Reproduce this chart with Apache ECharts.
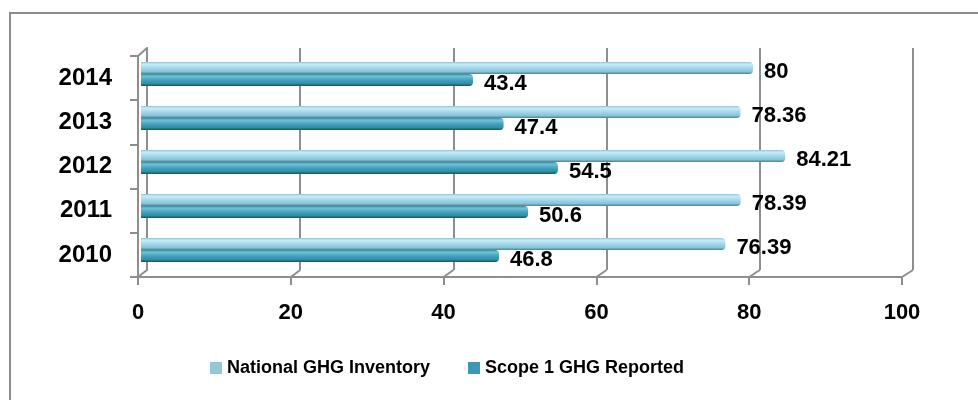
<!DOCTYPE html>
<html>
<head>
<meta charset="utf-8">
<script src="https://cdn.jsdelivr.net/npm/echarts@6/dist/echarts.min.js"></script>
<style>
  html, body { margin: 0; padding: 0; background: #fff; }
  .wrap { position: relative; width: 978px; height: 400px; overflow: hidden; }
  .frame { position: absolute; left: 9px; top: 12px; width: 980px; height: 400px;
           border-top: 2px solid #8c8c8c; border-left: 2px solid #8c8c8c; }
  .chart { position: absolute; left: 0; top: 0; width: 978px; height: 400px; }
</style>
</head>
<body>
<div class="wrap">
  <div class="frame"></div>
  <div class="chart" id="main"></div>
</div>
<script>
// data
var years = ["2010", "2011", "2012", "2013", "2014"];
var national = [76.39, 78.39, 84.21, 78.36, 80];
var scope1 = [46.8, 50.6, 54.5, 47.4, 43.4];
var xTicks = [0, 20, 40, 60, 80, 100];

var FONT = "'Liberation Sans', Arial, sans-serif";
var gridColor = "#8e8e8e";

function grad(stops) {
  return new echarts.graphic.LinearGradient(0, 0, 0, 1, stops);
}

var myChart = echarts.init(document.getElementById("main"), null, { renderer: "canvas" });

var labelStyle = {
  show: true, position: "right", distance: 11, offset: [0, 4],
  fontFamily: FONT, fontSize: 22, fontWeight: "bold", color: "#000"
};

var option = {
  animation: false,
  textStyle: { fontFamily: FONT },
  grid: [
    // back wall (3d depth offset)
    { left: 147, right: 65, top: 48, bottom: 130 },
    // bars
    { left: 141, right: 72, top: 52, bottom: 128 },
    // front axes
    { left: 138, right: 76, top: 56, bottom: 123 }
  ],
  legend: {
    left: 205,
    top: 354,
    itemWidth: 12,
    itemHeight: 12,
    itemGap: 38,
    icon: "rect",
    textStyle: { fontFamily: FONT, fontSize: 18, fontWeight: "bold", color: "#000" },
    data: [
      { name: "National GHG Inventory", itemStyle: { color: "#93c6d7" } },
      { name: "Scope 1 GHG Reported", itemStyle: { color: "#3d98b0" } }
    ]
  },
  xAxis: [
    {
      gridIndex: 0, type: "value", min: xTicks[0], max: xTicks[xTicks.length - 1], interval: 20,
      axisLine: { show: false }, axisTick: { show: false }, axisLabel: { show: false },
      splitLine: { show: true, lineStyle: { color: gridColor, width: 2 } }
    },
    {
      gridIndex: 1, type: "value", min: 0, max: 100, interval: 20,
      axisLine: { show: false }, axisTick: { show: false }, axisLabel: { show: false },
      splitLine: { show: false }
    },
    {
      gridIndex: 2, type: "value", min: 0, max: 100, interval: 20,
      axisLine: { show: true, lineStyle: { color: gridColor, width: 2 } },
      axisTick: { show: true, length: 8, lineStyle: { color: gridColor, width: 2 } },
      axisLabel: { margin: 25, fontFamily: FONT, fontSize: 22, fontWeight: "bold", color: "#000" },
      splitLine: { show: false }
    }
  ],
  yAxis: [
    {
      gridIndex: 0, type: "category", data: years,
      axisLine: { show: true, lineStyle: { color: gridColor, width: 2 } },
      axisTick: { show: false }, axisLabel: { show: false }
    },
    {
      gridIndex: 1, type: "category", data: years,
      axisLine: { show: false }, axisTick: { show: false }, axisLabel: { show: false }
    },
    {
      gridIndex: 2, type: "category", data: years,
      axisLine: { show: true, lineStyle: { color: gridColor, width: 2 } },
      axisTick: { show: true, length: 8, lineStyle: { color: gridColor, width: 2 } },
      axisLabel: { margin: 26, fontFamily: FONT, fontSize: 24, fontWeight: "bold", color: "#000" }
    }
  ],
  series: [
    {
      name: "National GHG Inventory",
      type: "bar",
      xAxisIndex: 1,
      yAxisIndex: 1,
      data: national,
      barWidth: 12,
      barGap: "0%",
      itemStyle: {
        borderRadius: [0, 4, 4, 0],
        color: grad([
          { offset: 0, color: "#8cc4d6" },
          { offset: 0.18, color: "#c8ecf8" },
          { offset: 0.5, color: "#a0d8ec" },
          { offset: 0.8, color: "#86c3d7" },
          { offset: 1, color: "#507f8c" }
        ])
      },
      label: labelStyle
    },
    {
      name: "Scope 1 GHG Reported",
      type: "bar",
      xAxisIndex: 1,
      yAxisIndex: 1,
      data: scope1,
      barWidth: 12,
      barGap: "0%",
      itemStyle: {
        borderRadius: [0, 4, 4, 0],
        color: grad([
          { offset: 0, color: "#3a8ba1" },
          { offset: 0.18, color: "#72c2d8" },
          { offset: 0.5, color: "#42a2bc" },
          { offset: 0.8, color: "#348ba3" },
          { offset: 1, color: "#1d4e5b" }
        ])
      },
      label: labelStyle
    }
  ]
};

myChart.setOption(option);

// 3d depth connectors between the front axes and the back wall
var lines = [];
xTicks.forEach(function (v) {
  var front = myChart.convertToPixel({ xAxisIndex: 2, yAxisIndex: 2 }, [v, years[0]]);
  var back = myChart.convertToPixel({ xAxisIndex: 0, yAxisIndex: 0 }, [v, years[0]]);
  var fy = myChart.getModel().getComponent("grid", 2).coordinateSystem.getRect();
  var by = myChart.getModel().getComponent("grid", 0).coordinateSystem.getRect();
  lines.push([[front[0], fy.y + fy.height], [back[0], by.y + by.height]]);
});
var fr = myChart.getModel().getComponent("grid", 2).coordinateSystem.getRect();
var br = myChart.getModel().getComponent("grid", 0).coordinateSystem.getRect();
lines.push([[fr.x, fr.y], [br.x, br.y]]);

myChart.setOption({
  graphic: lines.map(function (l) {
    return {
      type: "line", silent: true, z: 1,
      shape: { x1: l[0][0], y1: l[0][1], x2: l[1][0], y2: l[1][1] },
      style: { stroke: gridColor, lineWidth: 2 }
    };
  })
});
</script>
</body>
</html>
